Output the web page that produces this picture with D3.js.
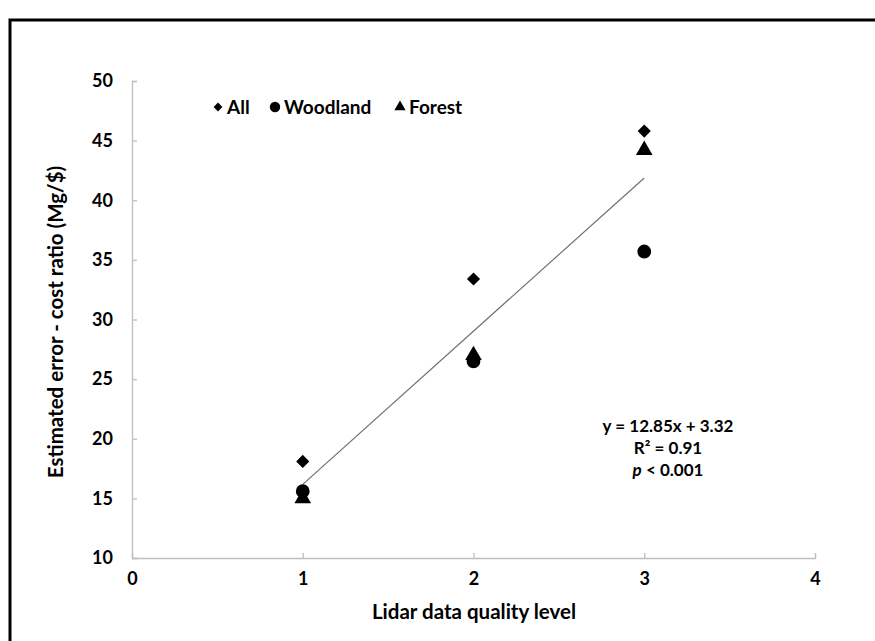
<!DOCTYPE html>
<html><head><meta charset="utf-8">
<script src="https://cdn.jsdelivr.net/npm/d3@7"></script>
<style>body{margin:0;background:#fff}svg{display:block}</style>
</head><body>
<script>
const levels = [1, 2, 3];
const allValues = [18.1, 33.4, 45.8];
const woodlandValues = [15.6, 26.5, 35.7];
const forestValues = [15.0, 27.0, 44.2];
const xTicks = [0, 1, 2, 3, 4];
const yTicks = [10, 15, 20, 25, 30, 35, 40, 45, 50];
const trendSlope = 12.85, trendIntercept = 3.32;
const trendRange = [1, 3];
const annotation = ["y = 12.85x + 3.32", "R² = 0.91", "p < 0.001"];
const legendNames = ["All", "Woodland", "Forest"];

const W = 875, H = 641;
const font = "Lato, 'Open Sans', sans-serif";
const svg = d3.select("body").append("svg").attr("width", W).attr("height", H);
svg.append("rect").attr("width", W).attr("height", H).attr("fill", "#fff");
svg.append("rect").attr("x", 10).attr("y", 20).attr("width", W + 20).attr("height", H + 20)
  .attr("fill", "none").attr("stroke", "#000").attr("stroke-width", 3);

const x = d3.scaleLinear().domain([0, 4]).range([132, 815]);
const y = d3.scaleLinear().domain([10, 50]).range([558, 81]);

const axisColor = "#bfbfbf";
const gx = svg.append("g").attr("transform", "translate(0,558)")
  .call(d3.axisBottom(x).tickValues(xTicks).tickSize(-5).tickPadding(18).tickFormat(d3.format("d")));
const gy = svg.append("g").attr("transform", "translate(132,0)")
  .call(d3.axisLeft(y).tickValues(yTicks).tickSize(-5).tickPadding(19).tickFormat(d3.format("d")));
[gx, gy].forEach(g => {
  g.select(".domain").attr("stroke", axisColor).attr("stroke-width", 1.3);
  g.selectAll(".tick line").attr("stroke", axisColor).attr("stroke-width", 1.3);
  g.selectAll(".tick text").attr("fill", "#000").attr("font-family", font)
    .attr("font-weight", "bold").attr("font-size", 18);
});
gx.selectAll(".tick text").attr("dy", "0.5em");

// trendline
svg.append("line")
  .attr("x1", x(trendRange[0])).attr("y1", y(trendSlope * trendRange[0] + trendIntercept))
  .attr("x2", x(trendRange[1])).attr("y2", y(trendSlope * trendRange[1] + trendIntercept))
  .attr("stroke", "#707070").attr("stroke-width", 1.2);

const sym = {
  All: d3.symbol().type(d3.symbolDiamond2).size(110),
  Woodland: d3.symbol().type(d3.symbolCircle).size(150),
  Forest: d3.symbol().type(d3.symbolTriangle).size(120)
};
const series = [
  {name: "All", values: allValues},
  {name: "Woodland", values: woodlandValues},
  {name: "Forest", values: forestValues}
];
series.forEach(s => {
  svg.append("g").selectAll("path").data(s.values).join("path")
    .attr("transform", (d, i) => `translate(${x(levels[i])},${y(d)})`)
    .attr("d", sym[s.name]()).attr("fill", "#000");
});

// legend
const legSym = {
  All: d3.symbol().type(d3.symbolDiamond2).size(50),
  Woodland: d3.symbol().type(d3.symbolCircle).size(85),
  Forest: d3.symbol().type(d3.symbolTriangle).size(55)
};
const legPos = [218, 275, 400];
legendNames.forEach((n, i) => {
  svg.append("path").attr("transform", `translate(${legPos[i]},107)`).attr("d", legSym[n]()).attr("fill", "#000");
  svg.append("text").attr("x", legPos[i] + 9).attr("y", 107).attr("dy", "0.36em")
    .attr("font-family", font).attr("font-weight", "bold").attr("font-size", 19).text(n);
});

// annotation
const ann = svg.append("g").attr("font-family", font).attr("font-weight", "bold").attr("font-size", 17)
  .attr("text-anchor", "middle");
ann.append("text").attr("x", 668).attr("y", 432).text(annotation[0]);
ann.append("text").attr("x", 668).attr("y", 454).text(annotation[1]);
const pt = ann.append("text").attr("x", 668).attr("y", 476);
pt.append("tspan").attr("font-style", "italic").text("p");
pt.append("tspan").text(annotation[2].slice(1));

// axis titles
svg.append("text").attr("x", 474).attr("y", 619).attr("text-anchor", "middle")
  .attr("font-family", font).attr("font-weight", "bold").attr("font-size", 20.5).text("Lidar data quality level");
svg.append("text").attr("transform", "translate(63,322) rotate(-90)").attr("text-anchor", "middle")
  .attr("font-family", font).attr("font-weight", "bold").attr("font-size", 20.5)
  .text("Estimated error - cost ratio (Mg/$)");
</script>
</body></html>
